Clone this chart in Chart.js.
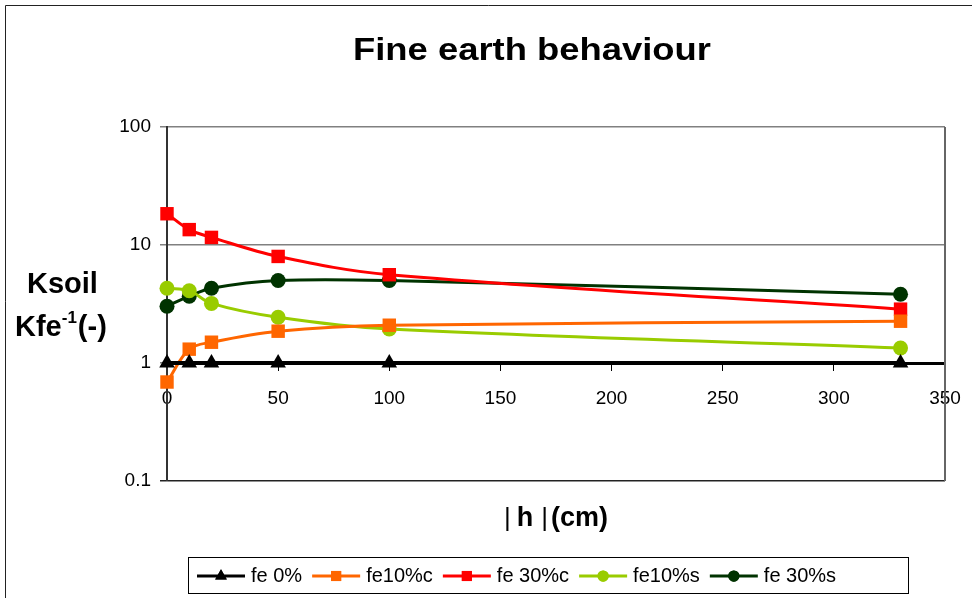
<!DOCTYPE html>
<html>
<head>
<meta charset="utf-8">
<script src="https://cdn.jsdelivr.net/npm/chart.js@4/dist/chart.umd.min.js"></script>
<style>
html,body{margin:0;padding:0;background:#fff;}
#wrap{position:relative;width:972px;height:598px;}
</style>
</head>
<body>
<div id="wrap"><canvas id="chart" width="972" height="598"></canvas></div>
<script>
// ===== DATA =====
const hValues = [0, 10, 20, 50, 100, 330];
const fe0 = [1, 1, 1, 1, 1, 1];
const fe10c = [0.69, 1.31, 1.5, 1.86, 2.09, 2.26];
const fe30c = [18.4, 13.5, 11.6, 8.0, 5.6, 2.86];
const fe10s = [4.3, 4.1, 3.2, 2.44, 1.94, 1.34];
const fe30s = [3.03, 3.68, 4.3, 5.0, 5.0, 3.82];

const seriesNames = ["fe 0%", "fe10%c", "fe 30%c", "fe10%s", "fe 30%s"];
const yTickValues = [0.1, 1, 10, 100];
const xTickStep = 50;

const titleText = "Fine earth behaviour";
const xTitle = ["|", "h", "|", "(cm)"];
const yTitle1 = "Ksoil";
const yTitle2 = ["Kfe", "-1", "(-)"];

const FONT = "'Liberation Sans', Arial, sans-serif";

function pts(arr){
return hValues.map((h,i)=>({x:h, y:arr[i]}));
}

function ds(label, data, color, style, radius, width){
return {
label: label,
data: pts(data),
borderColor: color,
backgroundColor: color,
borderWidth: width,
pointStyle: style,
pointRadius: radius,
pointHoverRadius: radius,
pointBorderWidth: 0,
tension: 0.35,
clip: false
};
}

const datasets = [
ds(seriesNames[0], fe0, "#000000", "triangle", 9, 4),
ds(seriesNames[1], fe10c, "#FF6600", "rect", 9.5, 3),
ds(seriesNames[2], fe30c, "#FF0000", "rect", 9.5, 3),
ds(seriesNames[3], fe10s, "#99CC00", "circle", 7.5, 3),
ds(seriesNames[4], fe30s, "#003300", "circle", 7.5, 3)
];


/* ================= EXTRA DRAWING ================= */
const decor = {
id: "decor",
beforeDraw(chart){
let c = chart.ctx;
c.save();
c.strokeStyle = "#222";
c.lineWidth = 1;
c.beginPath();
c.moveTo(5.5, 598);
c.lineTo(5.5, 5.5);
c.lineTo(972, 5.5);
c.stroke();
c.restore();
},
beforeDatasetsDraw(chart){
let a = chart.chartArea;
let c = chart.ctx;
c.save();
c.strokeStyle = "#666";
c.lineWidth = 2;
c.beginPath();
c.moveTo(a.right, a.top);
c.lineTo(a.right, a.bottom);
c.stroke();
c.restore();
},
afterDraw(chart){
let c = chart.ctx;
c.save();
c.fillStyle = "#000";
c.textBaseline = "alphabetic";

// title (drawn narrow-tall like the original, then fitted to its width)
c.font = "bold 31px " + FONT;
let tw = c.measureText(titleText).width;
c.save();
c.translate(532, 60);
c.scale(358 / tw, 1);
c.textAlign = "center";
c.fillText(titleText, 0, 0);
c.restore();

// y title
c.textAlign = "left";
c.font = "bold 29px " + FONT;
c.fillText(yTitle1, 27, 293);
let x = 15;
c.fillText(yTitle2[0], x, 336);
x += c.measureText(yTitle2[0]).width;
c.font = "bold 17px " + FONT;
c.fillText(yTitle2[1], x, 323);
x += c.measureText(yTitle2[1]).width + 1;
c.font = "bold 29px " + FONT;
c.fillText(yTitle2[2], x, 336);

// x title
x = 504;
c.font = "26px " + FONT;
c.fillText(xTitle[0], x, 526);
x += c.measureText(xTitle[0]).width + 6;
c.font = "bold 27px " + FONT;
c.fillText(xTitle[1], x, 526);
x += c.measureText(xTitle[1]).width + 8;
c.font = "26px " + FONT;
c.fillText(xTitle[2], x, 526);
x += c.measureText(xTitle[2]).width + 3;
c.font = "bold 27px " + FONT;
c.fillText(xTitle[3], x, 526);

// legend
let lx = 188, ly = 557, lw = 720, lh = 36;
c.strokeStyle = "#000";
c.lineWidth = 1;
c.strokeRect(lx + 0.5, ly + 0.5, lw, lh);
c.font = "20px " + FONT;
let cy = ly + lh / 2 + 1;
let px = lx + 9;
chart.data.datasets.forEach((d, i)=>{
c.strokeStyle = d.borderColor;
c.lineWidth = 3;
c.beginPath();
c.moveTo(px, cy);
c.lineTo(px + 48, cy);
c.stroke();
c.fillStyle = d.borderColor;
Chart.helpers.drawPoint(c, {pointStyle: d.pointStyle, radius: d.pointRadius * 0.75, borderWidth: 0}, px + 24, cy);
c.fill();
c.fillStyle = "#000";
c.textBaseline = "middle";
c.fillText(d.label, px + 54, cy);
px += 54 + c.measureText(d.label).width + 10;
});
c.restore();
}
};


/* ================= CHART ================= */
new Chart(document.getElementById("chart"), {
type: "line",
data: { datasets: datasets },
plugins: [decor],
options: {
responsive: false,
animation: false,
layout: { padding: { left: 117, right: 27, top: 127, bottom: 117 } },
plugins: {
legend: { display: false },
title: { display: false },
tooltip: { enabled: false }
},
scales: {
x: {
type: "linear",
position: { y: 1 },
min: 0,
max: 350,
afterFit: s => { s.paddingLeft = 0; s.paddingRight = 0; },
ticks: {
stepSize: xTickStep,
color: "#000",
padding: 18,
font: { family: FONT, size: 19 }
},
grid: { display: true, drawOnChartArea: false, drawTicks: true, tickLength: 6, color: "#000", lineWidth: 1 },
border: { display: true, color: "#000", width: 3 }
},
y: {
type: "logarithmic",
min: 0.1,
max: 100,
afterFit: s => { s.width = 50; s.paddingTop = 0; s.paddingBottom = 0; },
afterBuildTicks: s => { s.ticks = yTickValues.map(v => ({ value: v })); },
ticks: {
color: "#000",
padding: 9,
font: { family: FONT, size: 19 },
callback: v => String(v)
},
grid: {
color: ctx => (ctx.tick && ctx.tick.value === 0.1) ? "#222" : "#808080",
lineWidth: 1.5,
tickLength: 7
},
border: { display: true, color: "#333", width: 2 }
}
}
}
});
</script>
</body>
</html>
